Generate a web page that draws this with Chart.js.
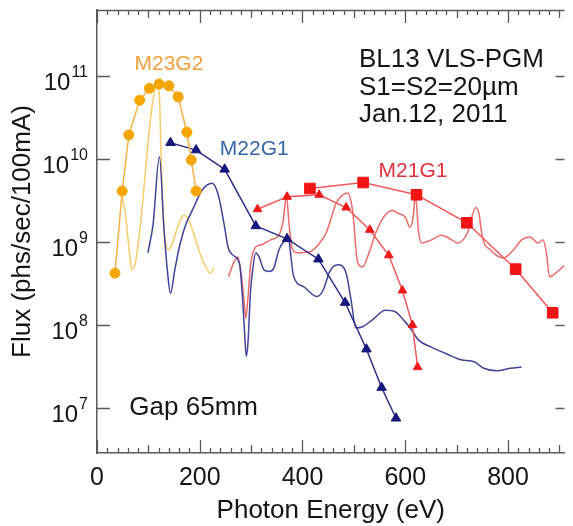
<!DOCTYPE html>
<html>
<head>
<meta charset="utf-8">
<title>BL13 VLS-PGM flux</title>
<script src="https://cdn.jsdelivr.net/npm/chart.js@4.4.1/dist/chart.umd.min.js"></script>
<style>
    html, body { margin: 0; padding: 0; background: #fff; }
    #wrap { width: 573px; height: 526px; }
</style>
</head>
<body>
<div id="wrap"><canvas id="fluxChart" width="573" height="526"></canvas></div>
<script>
// ---- data (energy in eV, flux in phs/sec/100mA) ----

// M23G2 measured points (circles)
var m23g2Energy = [35, 49, 62, 83, 102, 121, 140, 158, 175, 183.5, 193];
var m23g2Flux = [4.2e8, 4.1e9, 1.95e10, 5.1e10, 7.1e10, 8.0e10, 7.6e10, 5.6e10, 2.1e10, 9.7e9, 4.1e9];
// M23G2 scan
var m23g2ScanEnergy = [48, 55.5, 63.5, 68, 75, 86.5, 98, 107.5, 115, 121, 124.5, 128.5, 134.5, 140, 147.5, 157.5, 169, 178.5, 192, 205, 215, 220.5, 228];
var m23g2ScanFlux = [3.7e9, 2.1e9, 7.0e8, 4.6e8, 5.7e8, 2.1e9, 1.28e10, 4.5e10, 7.2e10, 6.4e10, 1.28e10, 2.1e9, 9.2e8, 8.0e8, 1.0e9, 1.56e9, 2.1e9, 1.84e9, 1.06e9, 6.1e8, 4.6e8, 4.2e8, 4.9e8];

// M22G1 measured points (triangles)
var m22g1Energy = [143, 193, 248.5, 309, 370, 431, 483, 524.5, 554, 582];
var m22g1Flux = [1.57e10, 1.28e10, 7.5e9, 1.56e9, 1.09e9, 6.2e8, 1.86e8, 5.1e7, 1.76e7, 7.5e6];
// M22G1 scan
var m22g1ScanEnergy = [99, 109, 121.5, 130.5, 137.5, 143, 151.5, 159, 172.5, 185.5, 204.5, 224, 236, 248.5, 255, 266.5, 277.5, 283.5, 287.5, 290.5, 293.5, 299, 303, 309, 315.5, 325, 335, 344.5, 354, 366.5, 373, 376, 383, 402, 427.5, 440, 453, 469, 485, 494.5, 504, 517, 536, 561.5, 580.5, 596.5, 612.5, 625.5, 651, 683, 708.5, 734, 753, 778.5, 804, 826.5];
var m22g1ScanFlux = [7.4e8, 1.6e9, 1.06e10, 1.4e9, 4.2e8, 2.4e8, 4.6e8, 8.0e8, 1.6e9, 2.4e9, 4.2e9, 5.1e9, 3.7e9, 1.5e9, 8.7e8, 6.8e8, 5.4e8, 2.0e8, 7.6e7, 4.2e7, 5.7e7, 2.6e8, 4.6e8, 7.4e8, 6.6e8, 4.6e8, 4.4e8, 4.9e8, 8.0e8, 1.06e9, 1.15e9, 8.0e8, 3.8e8, 2.9e8, 2.2e8, 2.6e8, 4.4e8, 5.3e8, 4.2e8, 2.0e8, 9.2e7, 9.5e7, 1.15e8, 1.5e8, 1.44e8, 1.15e8, 8.7e7, 6.6e7, 5.4e7, 4.4e7, 3.8e7, 3.6e7, 3.0e7, 2.8e7, 3.0e7, 3.1e7];

// M21G1 measured points (small triangles and squares)
var m21g1TriEnergy = [312.5, 370, 432.5, 485, 531, 568, 594.5, 614, 624];
var m21g1TriFlux = [2.48e9, 3.5e9, 3.7e9, 2.6e9, 1.4e9, 6.9e8, 2.6e8, 1.0e8, 3.1e7];
var m21g1SqEnergy = [414.5, 518, 622, 720, 815, 887];
var m21g1SqFlux = [4.4e9, 5.2e9, 3.7e9, 1.7e9, 4.7e8, 1.4e8];
// M21G1 scan
var m21g1ScanEnergy = [256, 266.5, 274, 281, 287, 289.5, 293.5, 299.5, 309, 319, 338, 354, 362, 369, 374, 379.5, 389, 414.5, 433.5, 446.5, 459.5, 465.5, 478.5, 488, 497.5, 507.5, 517, 529.5, 542.5, 558, 574.5, 587, 600, 609.5, 615.5, 620, 625.5, 632, 651, 670, 686, 702, 721, 737, 743.5, 750, 766, 791.5, 810.5, 826.5, 842.5, 858.5, 868, 874.5, 881, 896.5, 910];
var m21g1ScanFlux = [3.8e8, 5.7e8, 6.6e8, 4.0e8, 1.74e8, 1.2e8, 2.0e8, 5.6e8, 8.7e8, 9.2e8, 1.06e9, 1.2e9, 1.74e9, 3.5e9, 1.6e9, 8.5e8, 7.4e8, 7.6e8, 9.7e8, 1.3e9, 2.3e9, 2.95e9, 3.7e9, 3.9e9, 2.4e9, 5.6e8, 5.0e8, 7.4e8, 1.28e9, 2.0e9, 2.4e9, 2.2e9, 2.0e9, 1.5e9, 2.0e9, 3.7e9, 1.4e9, 9.7e8, 1.06e9, 1.2e9, 1.1e9, 9.7e8, 1.28e9, 2.6e9, 2.2e9, 1.15e9, 8.0e8, 6.4e8, 8.0e8, 1.06e9, 1.15e9, 9.7e8, 1.06e9, 7.6e8, 3.8e8, 4.4e8, 5.2e8];

// axis ticks
var xLabelTicks = [0, 200, 400, 600, 800];
var yDecadeTicks = [1e7, 1e8, 1e9, 1e10, 1e11];

var FONT = "'Liberation Sans', Arial, Helvetica, sans-serif";
var AXIS_COLOR = '#5a5a5a';
var TEXT_COLOR = '#151515';

// text placed on the plot (x in eV, y = flux at the text baseline)
var notes = [
    {text: 'M23G2', e: 73, f: 1.18e11, color: '#F2A03C', size: 21},
    {text: 'M22G1', e: 239, f: 1.12e10, color: '#3566A6', size: 21},
    {text: 'M21G1', e: 548, f: 6.1e9, color: '#E2323E', size: 21},
    {text: 'BL13 VLS-PGM', e: 510, f: 1.28e11, color: TEXT_COLOR, size: 26},
    {text: 'S1=S2=20\u00B5m', e: 510, f: 5.9e10, color: TEXT_COLOR, size: 26},
    {text: 'Jan.12, 2011', e: 510, f: 2.8e10, color: TEXT_COLOR, size: 26},
    {text: 'Gap 65mm', e: 63, f: 8.2e6, color: TEXT_COLOR, size: 26}
];

function pairs(xs, ys) {
    return xs.map(function(x, i) {
        return {x: x, y: ys[i]};
    });
}

// inward ticks on all four sides, top frame line, 10^n labels and notes
var axisDecor = {
    id: 'axisDecor',
    afterDatasetsDraw: function(chart) {
        var ctx = chart.ctx;
        var area = chart.chartArea;
        var xs = chart.scales.x;
        var ys = chart.scales.y;
        ctx.save();
        ctx.strokeStyle = AXIS_COLOR;
        ctx.lineWidth = 1.3;

        ctx.beginPath();
        ctx.moveTo(area.left, area.top + 0.5);
        ctx.lineTo(area.right, area.top + 0.5);
        ctx.stroke();

        ctx.beginPath();
        for (var e = 0; e <= xs.max; e += 20) {
            var px = Math.round(xs.getPixelForValue(e)) + 0.5;
            var len = e % 200 === 0 ? 13 : (e % 100 === 0 ? 8 : 5);
            ctx.moveTo(px, area.bottom);
            ctx.lineTo(px, area.bottom - len);
            ctx.moveTo(px, area.top);
            ctx.lineTo(px, area.top + len);
        }
        yDecadeTicks.forEach(function(v) {
            var py = Math.round(ys.getPixelForValue(v)) + 0.5;
            ctx.moveTo(area.left, py);
            ctx.lineTo(area.left + 13, py);
            ctx.moveTo(area.right, py);
            ctx.lineTo(area.right - 9, py);
        });
        ctx.stroke();

        // 10^n labels
        ctx.fillStyle = TEXT_COLOR;
        ctx.textAlign = 'right';
        ctx.textBaseline = 'alphabetic';
        yDecadeTicks.forEach(function(v) {
            var py = ys.getPixelForValue(v);
            var expText = String(Math.round(Math.log10(v)));
            var rightEdge = area.left - 9;
            ctx.font = '16px ' + FONT;
            ctx.fillText(expText, rightEdge, py + 1);
            var w = ctx.measureText(expText).width;
            ctx.font = '24px ' + FONT;
            ctx.fillText('10', rightEdge - w - 1, py + 14);
        });

        ctx.textAlign = 'left';
        notes.forEach(function(n) {
            ctx.font = n.size + 'px ' + FONT;
            ctx.fillStyle = n.color;
            ctx.fillText(n.text, xs.getPixelForValue(n.e), ys.getPixelForValue(n.f));
        });
        ctx.restore();
    }
};

function markerSet(label, xs, ys, lineColor, pointColor, style, radius) {
    return {
        label: label,
        data: pairs(xs, ys),
        borderColor: lineColor,
        borderWidth: 1.5,
        backgroundColor: pointColor,
        pointBackgroundColor: pointColor,
        pointBorderColor: pointColor,
        pointBorderWidth: 1,
        pointStyle: style,
        pointRadius: radius,
        tension: 0
    };
}

function scanSet(label, xs, ys, color) {
    return {
        label: label,
        data: pairs(xs, ys),
        borderColor: color,
        borderWidth: 1.5,
        pointRadius: 0,
        fill: false,
        cubicInterpolationMode: 'monotone'
    };
}

new Chart(document.getElementById('fluxChart'), {
    type: 'line',
    data: {
        datasets: [
            markerSet('M23G2', m23g2Energy, m23g2Flux, '#F4B245', '#F5A500', 'circle', 5),
            markerSet('M22G1', m22g1Energy, m22g1Flux, '#2E2E88', '#16167C', 'triangle', 5.5),
            markerSet('M21G1 tri', m21g1TriEnergy, m21g1TriFlux, '#F05A5A', '#F01818', 'triangle', 5),
            markerSet('M21G1 sq', m21g1SqEnergy, m21g1SqFlux, '#F05A5A', '#F01414', 'rect', 7.5),
            scanSet('M22G1 scan', m22g1ScanEnergy, m22g1ScanFlux, '#42429A'),
            scanSet('M21G1 scan', m21g1ScanEnergy, m21g1ScanFlux, '#EC6A6A'),
            scanSet('M23G2 scan', m23g2ScanEnergy, m23g2ScanFlux, '#F7CB6A')
        ]
    },
    options: {
        responsive: false,
        animation: false,
        layout: {padding: {top: 10, right: 1, left: 0, bottom: 0}},
        plugins: {
            legend: {display: false},
            tooltip: {enabled: false}
        },
        scales: {
            x: {
                type: 'linear',
                min: 0,
                max: 910,
                afterFit: function(scale) { scale.height = 73; },
                afterBuildTicks: function(scale) {
                    scale.ticks = xLabelTicks.map(function(v) { return {value: v}; });
                },
                grid: {display: false, drawTicks: false},
                border: {display: true, color: AXIS_COLOR, width: 1.5},
                ticks: {
                    padding: 10,
                    color: TEXT_COLOR,
                    font: {size: 25, family: FONT},
                    maxRotation: 0,
                    autoSkip: false
                },
                title: {
                    display: true,
                    text: 'Photon Energy (eV)',
                    color: TEXT_COLOR,
                    font: {size: 26, family: FONT},
                    padding: {top: 0, bottom: 0}
                }
            },
            y: {
                type: 'logarithmic',
                min: 2.86e6,
                max: 6.24e11,
                afterFit: function(scale) { scale.width = 97; },
                afterBuildTicks: function(scale) {
                    scale.ticks = yDecadeTicks.map(function(v) { return {value: v}; });
                },
                grid: {display: false, drawTicks: false},
                border: {display: true, color: AXIS_COLOR, width: 1.5},
                ticks: {display: false},
                title: {
                    display: true,
                    text: 'Flux (phs/sec/100mA)',
                    color: TEXT_COLOR,
                    font: {size: 26, family: FONT},
                    padding: {top: 7, bottom: 0}
                }
            }
        }
    },
    plugins: [axisDecor]
});
</script>
</body>
</html>
